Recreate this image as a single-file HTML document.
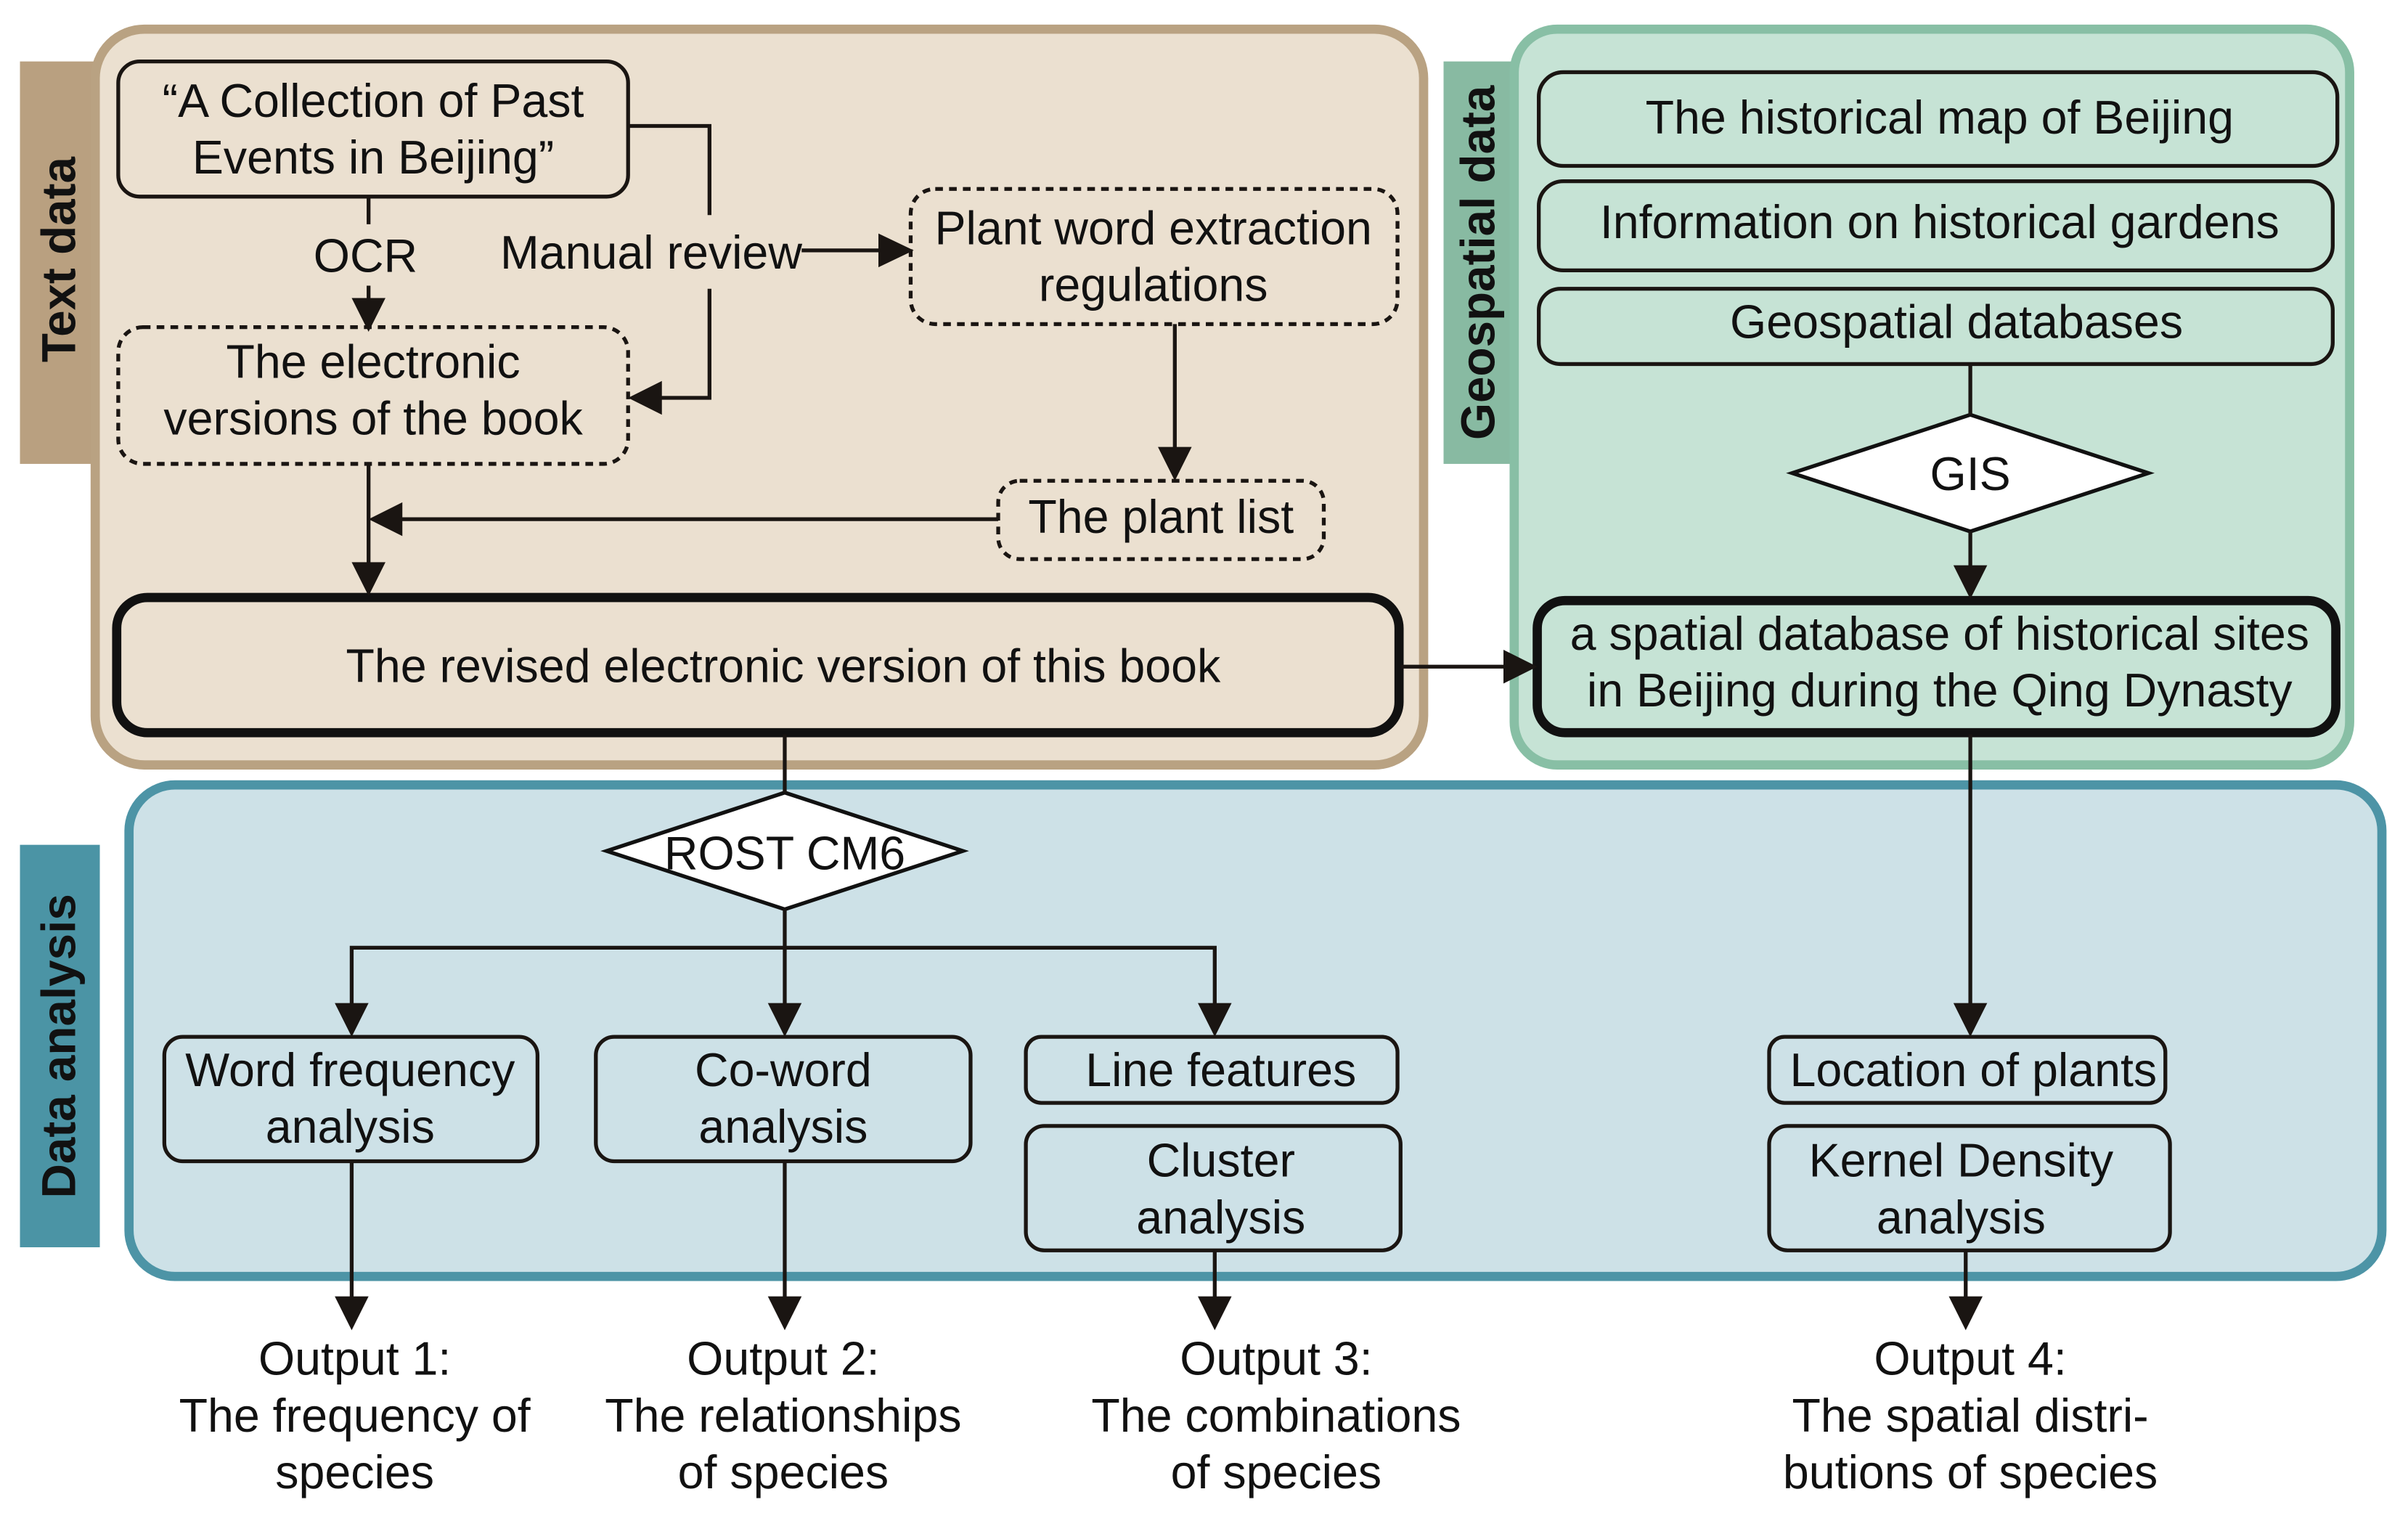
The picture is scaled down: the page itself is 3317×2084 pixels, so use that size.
<!DOCTYPE html>
<html><head><meta charset="utf-8"><style>
html,body{margin:0;padding:0;background:#fff;}
svg{display:block;}
text{font-family:"Liberation Sans",sans-serif;fill:#111;}
</style></head><body>
<svg width="3317" height="2084" viewBox="0 0 1568 985" xmlns="http://www.w3.org/2000/svg" preserveAspectRatio="none">
<rect x="0" y="0" width="1568" height="985" fill="#fff"/>
<rect x="13" y="40" width="52" height="262" fill="#b9a080"/>
<rect x="940" y="40" width="50" height="262" fill="#88baa2"/>
<rect x="13" y="550" width="52" height="262" fill="#4b94a5"/>
<text transform="translate(49,169) rotate(-90)" text-anchor="middle" font-weight="bold" font-size="31">Text data</text>
<text transform="translate(973,171) rotate(-90)" text-anchor="middle" font-weight="bold" font-size="31">Geospatial data</text>
<text transform="translate(49,681) rotate(-90)" text-anchor="middle" font-weight="bold" font-size="31">Data analysis</text>
<rect x="62" y="19" width="865" height="479" rx="32" fill="#ebe0d0" stroke="#b9a282" stroke-width="6"/>
<rect x="986" y="19" width="544" height="479" rx="28" fill="#c6e3d5" stroke="#88bfa5" stroke-width="6"/>
<rect x="84" y="511" width="1467" height="320" rx="30" fill="#cde1e7" stroke="#4d94a6" stroke-width="6"/>
<g fill="none" stroke="#1a1512" stroke-width="2.5">
<rect x="77" y="40" width="332" height="88" rx="14"/>
<rect x="77" y="213" width="332" height="89" rx="16" stroke-dasharray="5,4"/>
<rect x="593" y="123" width="317" height="88" rx="16" stroke-dasharray="5,4"/>
<rect x="650" y="313" width="212" height="51" rx="14" stroke-dasharray="5,4"/>
<rect x="1002" y="47" width="520" height="61" rx="16"/>
<rect x="1002" y="118" width="517" height="58" rx="16"/>
<rect x="1002" y="188" width="517" height="49" rx="14"/>
<rect x="107" y="675" width="243" height="81" rx="12"/>
<rect x="388" y="675" width="244" height="81" rx="12"/>
<rect x="668" y="675" width="242" height="43" rx="10"/>
<rect x="668" y="733" width="244" height="81" rx="12"/>
<rect x="1152" y="675" width="258" height="43" rx="10"/>
<rect x="1152" y="733" width="261" height="81" rx="12"/>
</g>
<rect x="76" y="389" width="835" height="88" rx="20" fill="none" stroke="#111" stroke-width="6"/>
<rect x="1001" y="391" width="520" height="86" rx="18" fill="none" stroke="#111" stroke-width="6"/>
<polygon points="1167,308 1283,270 1399,308 1283,346" fill="#fff" stroke="#111" stroke-width="2.5"/>
<polygon points="395,554 511,516 627,554 511,592" fill="#fff" stroke="#111" stroke-width="2.5"/>
<g fill="none" stroke="#1a1512" stroke-width="2.5">
<path d="M240 128 V146 M240 186 V200"/>
<path d="M409 82 H462 V140 M462 188 V259 H425"/>
<path d="M522 163 H580"/>
<path d="M765 211 V298"/>
<path d="M650 338 H256"/>
<path d="M240 302 V374"/>
<path d="M912 434 H986"/>
<path d="M1283 237 V270 M1283 346 V375"/>
<path d="M511 478 V516 M511 592 V617 M229 660 V617 H791 V660 M511 617 V660"/>
<path d="M1283 478 V660"/>
<path d="M229 756 V852 M511 756 V852 M791 814 V852 M1280 814 V852"/>
</g>
<g fill="#1a1512">
<polygon points="240,216 229,194 251,194"/>
<polygon points="409,259 431,248 431,270"/>
<polygon points="595,163 572,152 572,174"/>
<polygon points="765,313 754,291 776,291"/>
<polygon points="240,338 262,327 262,349"/>
<polygon points="240,388 229,366 251,366"/>
<polygon points="1001,434 979,423 979,445"/>
<polygon points="1283,390 1272,368 1294,368"/>
<polygon points="229,675 218,653 240,653"/>
<polygon points="511,675 500,653 522,653"/>
<polygon points="791,675 780,653 802,653"/>
<polygon points="1283,675 1272,653 1294,653"/>
<polygon points="229,866 218,844 240,844"/>
<polygon points="511,866 500,844 522,844"/>
<polygon points="791,866 780,844 802,844"/>
<polygon points="1280,866 1269,844 1291,844"/>
</g>
<g font-size="30.5" text-anchor="middle">
<text x="243" y="76">“A Collection of Past</text>
<text x="243" y="113">Events in Beijing”</text>
<text x="238" y="177">OCR</text>
<text x="424" y="175">Manual review</text>
<text x="243" y="246">The electronic</text>
<text x="243" y="283">versions of the book</text>
<text x="751" y="159">Plant word extraction</text>
<text x="751" y="196">regulations</text>
<text x="756" y="347">The plant list</text>
<text x="510" y="444">The revised electronic version of this book</text>
<text x="1263" y="87">The historical map of Beijing</text>
<text x="1263" y="155">Information on historical gardens</text>
<text x="1274" y="220">Geospatial databases</text>
<text x="1283" y="319">GIS</text>
<text x="1263" y="423">a spatial database of historical sites</text>
<text x="1263" y="460">in Beijing during the Qing Dynasty</text>
<text x="511" y="566">ROST CM6</text>
<text x="228" y="707">Word frequency</text>
<text x="228" y="744">analysis</text>
<text x="510" y="707">Co-word</text>
<text x="510" y="744">analysis</text>
<text x="795" y="707">Line features</text>
<text x="795" y="766">Cluster</text>
<text x="795" y="803">analysis</text>
<text x="1285" y="707">Location of plants</text>
<text x="1277" y="766">Kernel Density</text>
<text x="1277" y="803">analysis</text>
<text x="231" y="895">Output 1:</text>
<text x="231" y="932">The frequency of</text>
<text x="231" y="969">species</text>
<text x="510" y="895">Output 2:</text>
<text x="510" y="932">The relationships</text>
<text x="510" y="969">of species</text>
<text x="831" y="895">Output 3:</text>
<text x="831" y="932">The combinations</text>
<text x="831" y="969">of species</text>
<text x="1283" y="895">Output 4:</text>
<text x="1283" y="932">The spatial distri-</text>
<text x="1283" y="969">butions of species</text>
</g>
</svg>
</body></html>
